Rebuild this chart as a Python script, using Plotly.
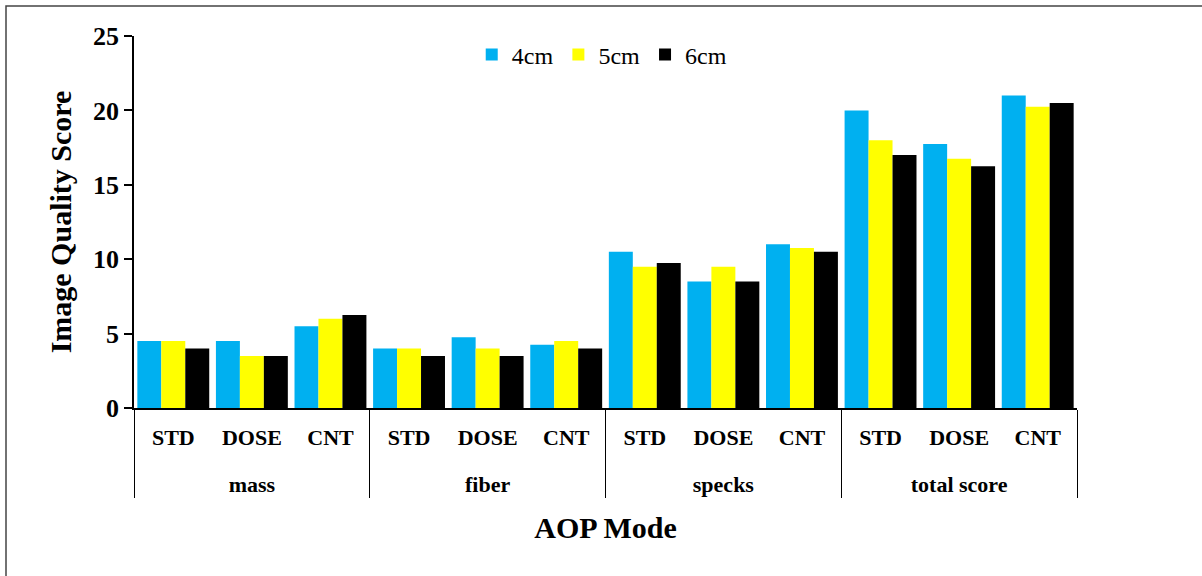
import plotly.graph_objects as go

groups = ["mass", "fiber", "specks", "total score"]
modes = ["STD", "DOSE", "CNT"]
series_names = ["4cm", "5cm", "6cm"]
colors = ["#00B0F0", "#FFFF00", "#000000"]

vals_4cm = [4.5, 4.5, 5.5, 4.0, 4.75, 4.25, 10.5, 8.5, 11.0, 20.0, 17.75, 21.0]
vals_5cm = [4.5, 3.5, 6.0, 4.0, 4.0, 4.5, 9.5, 9.5, 10.75, 18.0, 16.75, 20.25]
vals_6cm = [4.0, 3.5, 6.25, 3.5, 3.5, 4.0, 9.75, 8.5, 10.5, 17.0, 16.25, 20.5]
y_ticks = [0, 5, 10, 15, 20, 25]

# outer group labels pushed one line lower (as in the reference layout)
outer = ["<br>" + g for g in groups for _ in modes]
inner = [m for _ in groups for m in modes]

FONT = "Liberation Serif"

fig = go.Figure()
for name, vals, col in zip(series_names, [vals_4cm, vals_5cm, vals_6cm], colors):
    fig.add_trace(go.Bar(x=[outer, inner], y=vals, name=name,
                         marker=dict(color=col, line=dict(width=0))))

fig.update_layout(
    width=1202, height=576,
    paper_bgcolor="white", plot_bgcolor="white",
    margin=dict(l=134, r=125, t=36, b=168, autoexpand=False),
    barmode="group", bargap=0.085, bargroupgap=0,
    font=dict(family=FONT, size=22, color="black"),
    legend=dict(orientation="h", x=0.496, xanchor="center", y=0.949, yanchor="middle",
                font=dict(family=FONT, size=24, color="black"),
                bgcolor="rgba(0,0,0,0)", itemwidth=30, tracegroupgap=0),
    showlegend=True,
)
fig.update_yaxes(range=[0, 25], tickvals=y_ticks,
                 showgrid=False, zeroline=False,
                 showline=True, linecolor="black", linewidth=1.5,
                 ticks="outside", ticklen=8, tickwidth=1.5, tickcolor="black",
                 tickfont=dict(family=FONT, size=26, color="black", weight="bold"),
                 title=dict(text="<b>Image Quality Score</b>", standoff=13,
                            font=dict(family=FONT, size=30, color="black")),
                 automargin=False)
fig.update_xaxes(type="multicategory", showgrid=False,
                 showline=True, linecolor="black", linewidth=1.5,
                 showdividers=True, dividercolor="black", dividerwidth=1.2,
                 ticks="", ticklabelstandoff=9,
                 tickfont=dict(family=FONT, size=22, color="black", weight="bold"),
                 title=dict(text="<b>AOP Mode</b>", standoff=21,
                            font=dict(family=FONT, size=30, color="black")),
                 automargin=False)

fig.add_shape(type="rect", xref="paper", yref="paper",
              x0=(6 - 134) / 943, y0=-0.6, x1=1.2, y1=(408 - 6) / 372,
              line=dict(color="#444444", width=1.5), fillcolor="rgba(0,0,0,0)", layer="below")

fig.write_html("out.html", config={"displayModeBar": False},
               post_script="document.body.style.margin='0';")
